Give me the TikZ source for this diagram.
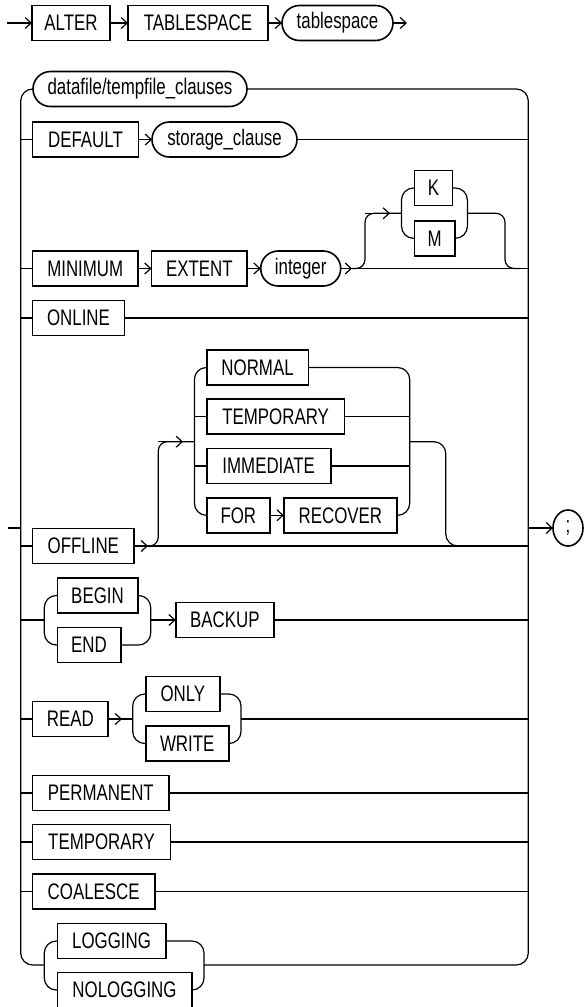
\documentclass[tikz,border=0pt]{standalone}
\usepackage{fontspec}
\setmainfont{Liberation Sans}[FakeStretch=0.75]
\usetikzlibrary{arrows.meta,shapes.geometric}
\begin{document}
\begin{tikzpicture}[x=1pt,y=-1pt,
  ln/.style={line width=1.2pt},
  arr/.style={ln,-{Straight Barb[length=6pt,width=11pt]}},
  kw/.style={draw,line width=1.6pt,minimum height=35pt,inner sep=0pt,outer sep=0pt,anchor=west,font=\fontsize{22.5}{26}\selectfont},
  ov/.style={kw,rounded corners=17.5pt},
  rc/.style={ln,rounded corners=12pt},
  rs/.style={ln,rounded corners=9pt}]
\useasboundingbox (0,0) rectangle (584,1007);

% top row
\node[kw,minimum width=78pt] (alter) at (32,23) {ALTER};
\node[kw,minimum width=140pt] (tbsp) at (128,23) {TABLESPACE};
\node[ov,minimum width=111pt] (tablespace) at (282,23) {tablespace};
\coordinate (start) at (7,23);
\coordinate (endtop) at (407,23);
\draw[arr] (start) -- (alter.west);
\draw[arr] (alter) -- (tbsp);
\draw[arr] (tbsp) -- (tablespace);
\draw[arr] (tablespace) -- (endtop);

% nodes
\node[ov,minimum width=214pt] (datafile) at (33,89) {datafile/tempfile\_clauses};
\node[kw,minimum width=106pt] (default) at (32.5,139.5) {DEFAULT};
\node[ov,minimum width=145pt] (storage) at (152,139.5) {storage\_clause};
\node[kw,minimum width=105.5pt] (minimum) at (32.5,268.5) {MINIMUM};
\node[kw,minimum width=95.4pt] (extent) at (151.6,268.5) {EXTENT};
\node[ov,minimum width=80pt] (integer) at (260.7,268.5) {integer};
\node[kw,minimum width=38pt] (K) at (414.5,188) {K};
\node[kw,minimum width=40.5pt] (M) at (414.5,238.3) {M};
\node[kw,minimum width=92pt] (online) at (32.5,318) {ONLINE};
\node[kw,minimum width=101.7pt] (normal) at (206.7,367.5) {NORMAL};
\node[kw,minimum width=137.8pt] (temp1) at (206.7,416.7) {TEMPORARY};
\node[kw,minimum width=124pt] (immediate) at (206.7,466) {IMMEDIATE};
\node[kw,minimum width=63.3pt] (for) at (206.7,515.3) {FOR};
\node[kw,minimum width=113.2pt] (recover) at (283.8,515.3) {RECOVER};
\node[kw,minimum width=101.7pt] (offline) at (32.5,546) {OFFLINE};
\node[kw,minimum width=80.4pt] (begin) at (57.3,595.5) {BEGIN};
\node[kw,minimum width=63.4pt] (end) at (57.3,645) {END};
\node[kw,minimum width=98.3pt] (backup) at (175.7,620) {BACKUP};
\node[kw,minimum width=75.6pt] (read) at (32.5,719) {READ};
\node[kw,minimum width=74.3pt] (only) at (145.7,694) {ONLY};
\node[kw,minimum width=83pt] (write) at (145.7,743.5) {WRITE};
\node[kw,minimum width=136.6pt] (permanent) at (32.5,793) {PERMANENT};
\node[kw,minimum width=138pt] (temp2) at (32.5,842) {TEMPORARY};
\node[kw,minimum width=122.3pt] (coalesce) at (32.5,891.5) {COALESCE};
\node[kw,minimum width=108.4pt] (logging) at (57.3,941) {LOGGING};
\node[kw,minimum width=134.4pt] (nologging) at (57.3,990) {NOLOGGING};
\node[kw,shape=ellipse,minimum width=30pt,minimum height=36pt] (semi) at (553,528) {;};

% rails
\coordinate (L) at (20.7,528);
\coordinate (R) at (528.3,528);
\coordinate (in) at (8,528);
\coordinate (lL) at (44.3,965);
\coordinate (lR) at (204,965);
\draw[ln] (in) -- (L);
\draw[arr] (R) -- (semi.west);
\draw[rc] (datafile.west) -| (L |- lL) -- (lL);
\draw[rc] (datafile.east) -| (R |- lR) -- (lR);

% DEFAULT row
\draw[ln] (L |- default.west) -- (default.west);
\draw[arr] (default) -- (storage);
\draw[ln] (storage.east) -- (R |- storage.east);

% MINIMUM row
\coordinate (i1) at (352,268.5);
\coordinate (kL) at (401.5,213.3);
\coordinate (kR) at (467.4,213.3);
\coordinate (kA) at (390,213.3);
\coordinate (kB) at (365,213.3);
\coordinate (kM) at (520,268.5);
\draw[ln] (L |- minimum.west) -- (minimum.west);
\draw[arr] (minimum) -- (extent);
\draw[arr] (extent) -- (integer);
\draw[ln] (integer.east) -- (R |- integer.east);
\draw[arr] (integer.east) -- (i1);
\draw[rs] (i1) -| (kB) -- (kL);
\draw[arr] (kB) -- (kA);
\draw[rc] (K.west) -| (kL |- M.west) -- (M.west);
\draw[rc] (K.east) -| (kR |- M.east) -- (M.east);
\draw[rs] (kR) -| (505,268.5) -- (kM);

% ONLINE row
\draw[ln] (L |- online.west) -- (online.west);
\draw[ln] (online.east) -- (R |- online.east);

% OFFLINE row
\coordinate (o1) at (148,546);
\coordinate (gL) at (194.4,441.7);
\coordinate (gR) at (409.7,441.7);
\coordinate (gB) at (158.3,441.7);
\coordinate (gA) at (183,441.7);
\coordinate (gM) at (460,546);
\draw[ln] (L |- offline.west) -- (offline.west);
\draw[ln] (offline.east) -- (R |- offline.east);
\draw[arr] (offline.east) -- (o1);
\draw[rs] (o1) -| (gB) -- (gL);
\draw[arr] (gB) -- (gA);
\draw[rc] (normal.west) -| (gL |- for.west) -- (for.west);
\draw[ln] (gL |- temp1.west) -- (temp1.west);
\draw[ln] (gL |- immediate.west) -- (immediate.west);
\draw[rc] (normal.east) -| (gR |- recover.east) -- (recover.east);
\draw[ln] (temp1.east) -- (gR |- temp1.east);
\draw[ln] (immediate.east) -- (gR |- immediate.east);
\draw[arr] (for) -- (recover);
\draw[rc] (gR) -| (445.8,546) -- (gM);

% BEGIN / END
\coordinate (bL) at (44.3,620);
\coordinate (bR) at (150.7,620);
\draw[ln] (L |- bL) -- (bL);
\draw[rc] (begin.west) -| (bL |- end.west) -- (end.west);
\draw[rc] (begin.east) -| (bR |- end.east) -- (end.east);
\draw[arr] (bR) -- (backup.west);
\draw[ln] (backup.east) -- (R |- backup.east);

% READ
\coordinate (rL) at (132.7,719);
\coordinate (rR) at (241,719);
\coordinate (rA) at (122,719);
\draw[ln] (L |- read.west) -- (read.west);
\draw[ln] (read.east) -- (rL);
\draw[arr] (read.east) -- (rA);
\draw[rc] (only.west) -| (rL |- write.west) -- (write.west);
\draw[rc] (only.east) -| (rR |- write.east) -- (write.east);
\draw[ln] (rR) -- (R |- rR);

% simple rows
\foreach \n in {permanent,temp2,coalesce}{
  \draw[ln] (L |- \n.west) -- (\n.west);
  \draw[ln] (\n.east) -- (R |- \n.east);
}

% LOGGING
\draw[rc] (logging.west) -| (lL |- nologging.west) -- (nologging.west);
\draw[rc] (logging.east) -| (lR |- nologging.east) -- (nologging.east);
\end{tikzpicture}
\end{document}
